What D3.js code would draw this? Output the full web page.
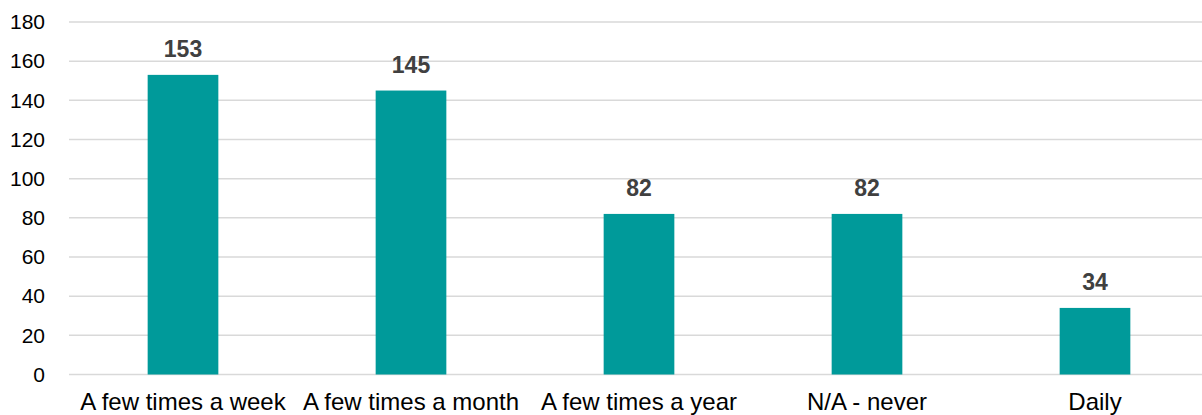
<!DOCTYPE html>
<html>
<head>
<meta charset="utf-8">
<script src="https://cdn.jsdelivr.net/npm/d3@7/dist/d3.min.js"></script>
<style>
  html, body { margin: 0; padding: 0; background: #fff; }
  svg { display: block; font-family: "Liberation Sans", Arial, sans-serif; }
</style>
</head>
<body>
<svg id="chart" width="1202" height="415"></svg>
<script>
// Survey responses by frequency
const categories = ["A few times a week", "A few times a month", "A few times a year", "N/A - never", "Daily"];
const counts = [153, 145, 82, 82, 34];
const yTicks = [0, 20, 40, 60, 80, 100, 120, 140, 160, 180];

const svg = d3.select("#chart");
const margin = { left: 69, top: 22, right: -7, bottom: 40 };
const W = 1202, H = 415;
const x0 = margin.left, x1 = W - margin.right;
const y0 = 374.5, y1 = margin.top;

const x = d3.scaleBand().domain(categories).range([x0, x1]).paddingInner(0.69).paddingOuter(0.345);
const y = d3.scaleLinear().domain([0, 180]).range([y0, y1]);

// Horizontal gridlines
svg.append("g")
  .selectAll("line")
  .data(yTicks)
  .join("line")
  .attr("x1", x0).attr("x2", x1)
  .attr("y1", d => y(d)).attr("y2", d => y(d))
  .attr("stroke", "#d9d9d9")
  .attr("stroke-width", 1.5);

// Y axis labels
const yAxis = d3.axisLeft(y).tickValues(yTicks).tickSize(0).tickPadding(24);
const gy = svg.append("g").attr("transform", `translate(${x0},0)`).call(yAxis);
gy.select(".domain").remove();
gy.selectAll("text").attr("font-size", 21).attr("fill", "#000").attr("font-family", "Liberation Sans, Arial, sans-serif");

// Bars
svg.append("g")
  .selectAll("rect")
  .data(categories)
  .join("rect")
  .attr("x", d => x(d))
  .attr("width", x.bandwidth())
  .attr("y", (d, i) => y(counts[i]))
  .attr("height", (d, i) => y(0) - y(counts[i]))
  .attr("fill", "#009a9a");

// Value labels
svg.append("g")
  .selectAll("text")
  .data(categories)
  .join("text")
  .attr("x", d => x(d) + x.bandwidth() / 2)
  .attr("y", (d, i) => y(counts[i]) - 17.5)
  .attr("text-anchor", "middle")
  .attr("font-size", 23)
  .attr("font-weight", "bold")
  .attr("fill", "#404040")
  .text((d, i) => counts[i]);

// Category axis labels
const xAxis = d3.axisBottom(x).tickSize(0).tickPadding(18);
const gx = svg.append("g").attr("transform", `translate(0,${y0})`).call(xAxis);
gx.select(".domain").remove();
gx.selectAll("text").attr("font-size", 24).attr("fill", "#000").attr("font-family", "Liberation Sans, Arial, sans-serif");
</script>
</body>
</html>
